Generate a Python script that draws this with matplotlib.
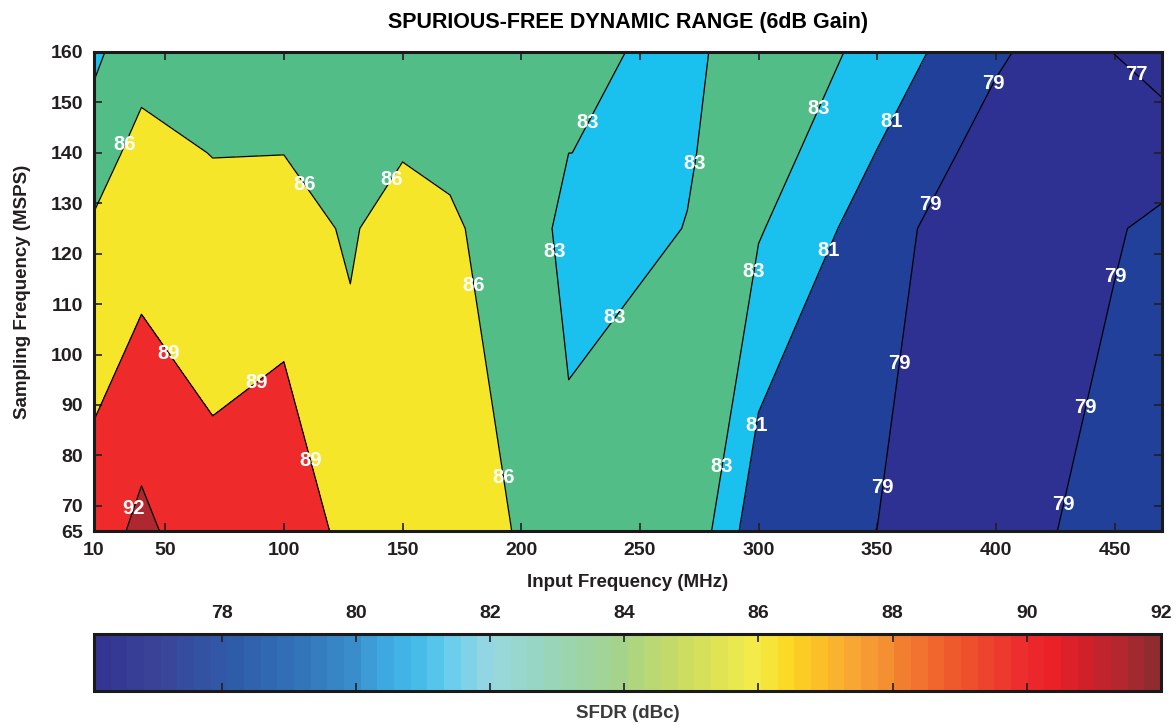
import matplotlib
matplotlib.use('Agg')
import matplotlib.pyplot as plt
import numpy as np
from matplotlib.colors import LinearSegmentedColormap, ListedColormap, Normalize
from matplotlib.cm import ScalarMappable

plt.rcParams['font.family'] = ['Liberation Sans', 'DejaVu Sans']
plt.rcParams['font.weight'] = 'bold'
plt.rcParams['axes.labelweight'] = 'bold'

# Input frequency grid (axis units, the first column sits at the "10" tick)
fin = [20, 40, 70, 100, 128, 150, 170, 200, 220, 270, 300, 350, 400, 450, 470]
# Sampling frequency rows (MSPS)
fs = [65, 125, 140, 160]

# SFDR (dBc), one list per sampling frequency
sfdr_65 = [90.36, 92.79, 89.67, 90.50, 88.32, 87.50, 87.30, 85.80, 84.00, 84.76, 79.59, 78.99, 77.46, 80.43, 80.00]
sfdr_125 = [86.65, 87.50, 87.91, 87.82, 85.48, 88.34, 86.31, 84.86, 82.00, 83.05, 83.18, 79.92, 77.21, 78.70, 79.80]
sfdr_140 = [83.70, 87.69, 85.86, 85.95, 85.00, 85.68, 85.61, 84.50, 83.005, 82.84, 84.06, 80.95, 78.06, 78.20, 77.40]
sfdr_160 = [82.72, 83.94, 84.50, 84.50, 84.80, 85.00, 84.50, 84.50, 83.79, 82.14, 85.00, 82.22, 79.33, 76.97, 76.67]

line_levels = [77, 79, 81, 83, 86, 89, 92]
fill_levels = [70, 77, 79, 81, 83, 86, 89, 92, 100]
fill_colors = ['#2e3092', '#2e3092', '#20409a', '#1ac1ef', '#52bd87', '#f6e629', '#ee2a2b', '#b0282f']

# where the contour labels sit
label_pos = [(33.5, 141.6), (109.2, 133.8), (145, 134.8), (180.3, 113.8), (192.5, 75.7),
             (51.6, 100.3), (88.6, 94.4), (111.3, 78.9), (36.8, 69.4),
             (228.3, 145.9), (272.4, 138), (213.1, 120.3), (240.4, 107),
             (325.4, 148.9), (297.2, 116.6), (283.4, 77.9),
             (356.1, 146.3), (330, 120.5), (300.2, 85.8),
             (397.8, 154.1), (371.7, 129.9), (359.1, 98.3), (352.4, 73.7),
             (450.4, 115.4), (437.8, 89.4), (429.4, 70.2), (459, 155.4)]

xticks = [20, 50, 100, 150, 200, 250, 300, 350, 400, 450]
xticklabels = ['10', '50', '100', '150', '200', '250', '300', '350', '400', '450']
yticks = [65, 70, 80, 90, 100, 110, 120, 130, 140, 150, 160]

# colour bar scale
cb_vals = [76.1, 77, 78, 79, 80, 80.5, 81, 81.5, 82, 83, 84, 85, 86, 86.5,
           87, 87.5, 88, 89, 90, 90.5, 91, 91.5, 92]
cb_cols = ['#343592', '#3a4598', '#2f5aa8', '#3172b7', '#3c92cf', '#3eaee4', '#49c0ea',
           '#75d0ec', '#98d8df', '#98d5b5', '#a8d387', '#cfdd5e', '#f5ec48', '#fbd820',
           '#fbbd29', '#f8a535', '#f38c32', '#ef5a2c', '#ec2e2f', '#eb2128', '#d0212b',
           '#b3272f', '#902b30']
cb_ticks = [78, 80, 82, 84, 86, 88, 90, 92]

ink = '#231f20'

X, Y = np.meshgrid(fin, fs)
Z = np.array([sfdr_65, sfdr_125, sfdr_140, sfdr_160])

fig = plt.figure(figsize=(11.76, 7.25), dpi=100)
ax = fig.add_axes([94 / 1176, 194 / 725, 1068 / 1176, 479 / 725])

ax.contourf(X, Y, Z, levels=fill_levels, colors=fill_colors)
cs = ax.contour(X, Y, Z, levels=line_levels, colors='k', linewidths=0.9)
texts = ax.clabel(cs, manual=label_pos, inline=False, fmt='%d', fontsize=14.5, colors='white')
for t in texts:
    t.set_rotation(0)
    t.set_fontweight('bold')

ax.set_xlim(20, 470)
ax.set_ylim(65, 160)
ax.set_xticks(xticks)
ax.set_xticklabels(xticklabels)
ax.set_yticks(yticks)
ax.tick_params(direction='in', length=6, width=1.2, color=ink, labelcolor=ink,
               labelsize=14, top=True, right=True, pad=8)
for s in ax.spines.values():
    s.set_linewidth(2.2)
    s.set_color('#1a1a1a')

ax.set_title('SPURIOUS-FREE DYNAMIC RANGE (6dB Gain)', fontsize=15.5, fontweight='bold', pad=17)
ax.set_xlabel('Input Frequency (MHz)', fontsize=13.5, color=ink, labelpad=11)
ax.set_ylabel('Sampling Frequency (MSPS)', fontsize=13.5, color=ink, labelpad=14)

# colour bar
pos = np.array(cb_vals)
pos = (pos - pos[0]) / (pos[-1] - pos[0])
smooth = LinearSegmentedColormap.from_list('sfdr', list(zip(pos, cb_cols)))
cmap = ListedColormap(smooth(np.linspace(0, 1, 64)))
sm = ScalarMappable(norm=Normalize(cb_vals[0], cb_vals[-1]), cmap=cmap)

cax = fig.add_axes([94 / 1176, 34 / 725, 1067 / 1176, 57 / 725])
cb = fig.colorbar(sm, cax=cax, orientation='horizontal')
cb.set_ticks(cb_ticks)
cb.outline.set_linewidth(2.2)
cb.outline.set_edgecolor('#1a1a1a')
cax.xaxis.set_ticks_position('both')
cax.tick_params(direction='in', length=6, width=1.2, color=ink, labelcolor=ink,
                labelsize=14, labeltop=True, labelbottom=False, pad=9)
cax.set_xlabel('SFDR (dBc)', fontsize=13.5, color='#3a3a3a', labelpad=10)
cax.xaxis.set_label_position('bottom')

fig.savefig('out.png', dpi=100)
